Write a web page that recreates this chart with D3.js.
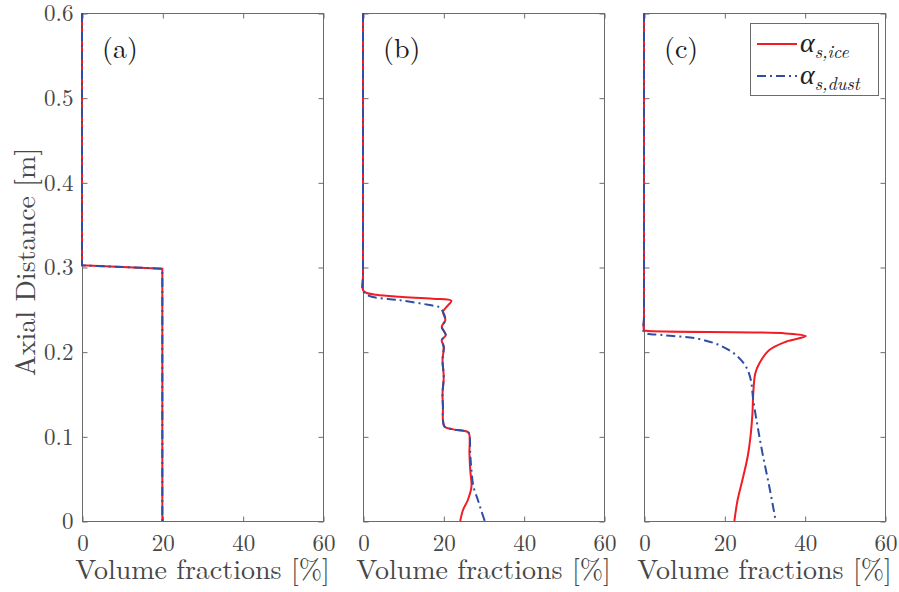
<!DOCTYPE html>
<html>
<head>
<meta charset="utf-8">
<script src="https://cdn.jsdelivr.net/npm/d3@7"></script>
<style>
  body { margin: 0; background: #fff; }
  svg { display: block; }
</style>
</head>
<body>
<svg width="899" height="592"></svg>
<script>
'use strict';

// tick values and labels
var xTicks = [0, 20, 40, 60];
var yTicks = [0, 0.1, 0.2, 0.3, 0.4, 0.5, 0.6];
var panelNames = ['(a)', '(b)', '(c)'];
var seriesNames = ['s,ice', 's,dust'];

// [volume fraction %, axial distance m]
var iceA = [[0, 0.6], [0, 0.302], [20, 0.298], [20, 0]];
var dustA = [[0, 0.6], [0, 0.302], [20, 0.298], [20, 0]];

var iceB = [[0, 0.6], [0, 0.29], [0, 0.2727], [0.8, 0.2696], [3.3, 0.2672], [9.1, 0.2648], [17.4, 0.2625],
  [22, 0.2601], [21.2, 0.255], [20.3, 0.2499], [19.9, 0.2471], [20.5, 0.2373], [19.6, 0.2294],
  [20.6, 0.2196], [19.6, 0.2137], [20.1, 0.2058], [19.8, 0.1901], [20.1, 0.1704], [19.8, 0.1507],
  [19.9, 0.135], [19.9, 0.1192], [20.3, 0.1114], [22.4, 0.1082], [26.1, 0.1051], [26.5, 0.1015],
  [26.5, 0.0799], [26.7, 0.0602], [27.0, 0.0405], [26.1, 0.0248], [24.9, 0.013], [24.2, 0.0]];
var dustB = [[0, 0.6], [0, 0.29], [0, 0.2716], [1.7, 0.2656], [9.1, 0.2609], [16.6, 0.255], [19.1, 0.2523],
  [19.9, 0.2471], [20.5, 0.2373], [19.6, 0.2294], [20.6, 0.2196], [19.6, 0.2137], [20.1, 0.2058],
  [19.8, 0.1901], [20.1, 0.1704], [19.8, 0.1507], [19.9, 0.135], [19.9, 0.1192], [20.3, 0.1114],
  [22.4, 0.1082], [26.1, 0.1051], [26.5, 0.1015], [26.7, 0.0799], [27.0, 0.0602], [27.5, 0.0405],
  [28.6, 0.0248], [29.4, 0.013], [30.3, 0.0]];

var iceC = [[0, 0.6], [0, 0.24], [0, 0.2255], [0.5, 0.2247], [35.3, 0.2216], [40.3, 0.2184], [35.3, 0.2117],
  [31.2, 0.2019], [28.7, 0.1861], [27.7, 0.1743], [27.2, 0.1507], [27.0, 0.1271], [26.6, 0.1035],
  [25.8, 0.0759], [24.5, 0.0484], [23.3, 0.0248], [22.5, 0.0]];
var dustC = [[0, 0.6], [0, 0.24], [0, 0.2235], [4.6, 0.2196], [12.9, 0.2157], [18.7, 0.2078], [22.9, 0.196],
  [25.4, 0.1822], [26.6, 0.1665], [27.2, 0.1429], [28.3, 0.1113], [29.5, 0.0799], [31.2, 0.0405],
  [32.8, 0.0]];

var iceSeries = [iceA, iceB, iceC];
var dustSeries = [dustA, dustB, dustC];

var svg = d3.select('svg');

var red = '#f21c24';
var blue = '#2f4ea3';
var axisColor = '#6b6b6b';
var textColor = '#474747';
var serif = '"Latin Modern Roman", "Liberation Serif", serif';

// panel layout
var panelLeft = [82, 363, 644];
var panelWidth = 241;
var plotTop = 13;
var plotBottom = 521;

var y = d3.scaleLinear().domain([0, 0.6]).range([plotBottom, plotTop]);

panelLeft.forEach(function (left, i) {
  var x = d3.scaleLinear().domain([0, 60]).range([left, left + panelWidth]);
  var g = svg.append('g');

  var line = d3.line()
    .x(function (d) { return x(d[0]); })
    .y(function (d) { return y(d[1]); })
    .curve(i === 0 ? d3.curveLinear : d3.curveCatmullRom.alpha(0.5));

  // box
  g.append('rect')
    .attr('x', left + 0.5)
    .attr('y', plotTop + 0.5)
    .attr('width', panelWidth)
    .attr('height', plotBottom - plotTop)
    .attr('fill', 'none')
    .attr('stroke', axisColor)
    .attr('stroke-width', 1);

  // ticks on all four sides, pointing inward
  g.append('g')
    .attr('transform', 'translate(0.5,' + (plotBottom + 0.5) + ')')
    .call(d3.axisBottom(x).tickValues(xTicks).tickSize(-5).tickSizeOuter(0).tickPadding(13).tickFormat(d3.format('d')));
  g.append('g')
    .attr('transform', 'translate(0.5,' + (plotTop + 0.5) + ')')
    .call(d3.axisTop(x).tickValues(xTicks).tickSize(-5).tickSizeOuter(0).tickFormat(''));
  g.append('g')
    .attr('transform', 'translate(' + (left + 0.5) + ',0.5)')
    .call(d3.axisLeft(y).tickValues(yTicks).tickSize(-5).tickSizeOuter(0).tickPadding(9)
      .tickFormat(i === 0 ? function (d) { return d === 0 ? '0' : d3.format('.1f')(d); } : ''));
  g.append('g')
    .attr('transform', 'translate(' + (left + panelWidth + 0.5) + ',0.5)')
    .call(d3.axisRight(y).tickValues(yTicks).tickSize(-5).tickSizeOuter(0).tickFormat(''));

  g.selectAll('.domain').remove();
  g.selectAll('.tick line').attr('stroke', axisColor);
  g.selectAll('.tick text')
    .attr('fill', textColor)
    .style('font-size', '23px')
    .style('font-family', serif);

  // curves: solid ice first, dash-dot dust over it
  g.append('path')
    .datum(iceSeries[i])
    .attr('d', line)
    .attr('fill', 'none')
    .attr('stroke', red)
    .attr('stroke-width', 2);
  g.append('path')
    .datum(dustSeries[i])
    .attr('d', line)
    .attr('fill', 'none')
    .attr('stroke', blue)
    .attr('stroke-width', 2)
    .attr('stroke-dasharray', '9,4,2,4');

  // panel letter
  g.append('text')
    .attr('x', left + 20)
    .attr('y', 58)
    .attr('fill', '#1a1a1a')
    .style('font-family', serif)
    .style('font-size', '28px')
    .text(panelNames[i]);

  // x label
  g.append('text')
    .attr('x', left + panelWidth / 2)
    .attr('y', 579)
    .attr('text-anchor', 'middle')
    .attr('fill', textColor)
    .style('font-family', serif)
    .style('font-size', '28px')
    .text('Volume fractions [%]');
});

// y label
svg.append('text')
  .attr('transform', 'translate(35,262) rotate(-90)')
  .attr('text-anchor', 'middle')
  .attr('fill', textColor)
  .style('font-family', serif)
  .style('font-size', '28px')
  .text('Axial Distance [m]');

// legend inside panel (c)
var legend = svg.append('g');
legend.append('rect')
  .attr('x', 750.5)
  .attr('y', 23.5)
  .attr('width', 128)
  .attr('height', 72)
  .attr('fill', '#fff')
  .attr('stroke', axisColor);

var legendRows = [
  {name: seriesNames[0], color: red, dash: null, y: 44},
  {name: seriesNames[1], color: blue, dash: '9,4,2,4', y: 76}
];
legendRows.forEach(function (r) {
  legend.append('line')
    .attr('x1', 757).attr('x2', 797)
    .attr('y1', r.y).attr('y2', r.y)
    .attr('stroke', r.color)
    .attr('stroke-width', 2)
    .attr('stroke-dasharray', r.dash);
  var t = legend.append('text')
    .attr('x', 800)
    .attr('y', r.y + 8)
    .attr('fill', '#222')
    .style('font-style', 'italic');
  t.append('tspan')
    .style('font-family', '"Liberation Serif", serif')
    .style('font-size', '28px')
    .text('α');
  t.append('tspan')
    .attr('dy', 6)
    .style('font-family', serif)
    .style('font-size', '18px')
    .text(r.name);
});
</script>
</body>
</html>
